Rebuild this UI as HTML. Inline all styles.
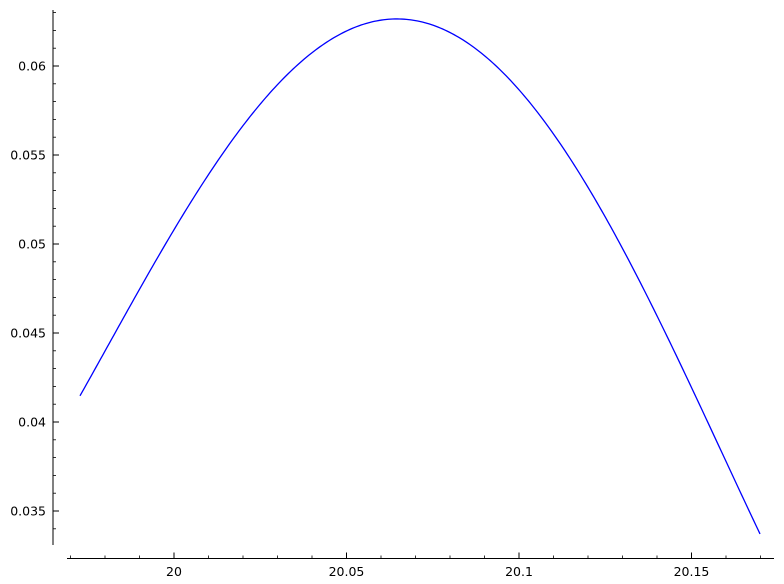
<!DOCTYPE html>
<html><head><meta charset="utf-8"><style>
html,body{margin:0;padding:0;background:#fff;}
svg{display:block;font-family:"DejaVu Sans","Liberation Sans",sans-serif;}
</style></head><body>
<svg id="chart" width="784" height="584" viewBox="0 0 784 584" xmlns="http://www.w3.org/2000/svg"></svg>
<script>
const xValues=[19.97275,19.98435,19.99884,20.01333,20.02783,20.03652,20.04609,20.05594,20.06406,20.07507,20.08493,20.09449,20.10319,20.11275,20.12261,20.13217,20.14174,20.15159,20.16116,20.16986];
const yValues=[0.04135,0.04573,0.05039,0.05472,0.05848,0.06028,0.06163,0.06236,0.06258,0.06219,0.06135,0.05994,0.05787,0.05539,0.05242,0.04904,0.04511,0.04118,0.03742,0.03371];
const xTicks=[20,20.05,20.1,20.15];
const xTickLabels=["20","20.05","20.1","20.15"];
const yTicks=[0.035,0.04,0.045,0.05,0.055,0.06];
const yTickLabels=["0.035","0.04","0.045","0.05","0.055","0.06"];

const NS="http://www.w3.org/2000/svg";
const svg=document.getElementById('chart');
function X(v){return 174+(v-20)*3450;}
function Y(v){return 66-(v-0.06)*17800;}
function mk(t,a){const e=document.createElementNS(NS,t);for(const k in a)e.setAttribute(k,a[k]);svg.appendChild(e);return e;}

const xa=mk('line',{x1:67,y1:558.5,x2:774,y2:558.5,stroke:'#000','stroke-width':1});


const ya=mk('line',{x1:53,y1:10,x2:53,y2:545,stroke:'#000','stroke-width':1});



for(let v=19.97;v<=20.1725;v+=0.01){const px=X(v);if(px<67||px>774)continue;
 const t=mk('line',{x1:px,y1:558.5,x2:px,y2:555.5,stroke:'#000','stroke-width':0.8});
 
 }
for(let v=0.033;v<=0.0631;v+=0.001){const py=Y(v);if(py<10||py>545)continue;
 const t=mk('line',{x1:53,y1:py,x2:56,y2:py,stroke:'#000','stroke-width':0.8});
 
 }

xTicks.forEach((v,i)=>{const px=X(v);
 const t=mk('line',{x1:px,y1:558.5,x2:px,y2:552.5,stroke:'#000','stroke-width':1});
 
 
 const l=mk('text',{x:px,y:576,'text-anchor':'middle','font-size':12.5,fill:'#000'});
 l.textContent=xTickLabels[i];
 
 });
yTicks.forEach((v,i)=>{const py=Y(v);
 const t=mk('line',{x1:53,y1:py,x2:59,y2:py,stroke:'#000','stroke-width':1});
 
 
 const l=mk('text',{x:46,y:py+4.5,'text-anchor':'end','font-size':12.5,fill:'#000'});
 l.textContent=yTickLabels[i];
 
 });

// least-squares polynomial smoothing of the sampled data (degree 4)
const DEG=4, xc=20.07, xs=0.1;
const n=DEG+1, A=[], b=[];
for(let i=0;i<n;i++){A.push(new Array(n).fill(0));b.push(0);}
xValues.forEach((xv,k)=>{const u=(xv-xc)/xs;const pw=[];for(let i=0;i<2*n;i++)pw.push(Math.pow(u,i));
 for(let i=0;i<n;i++){b[i]+=yValues[k]*pw[i];for(let j=0;j<n;j++)A[i][j]+=pw[i+j];}});
for(let i=0;i<n;i++){let p=i;for(let r=i+1;r<n;r++)if(Math.abs(A[r][i])>Math.abs(A[p][i]))p=r;
 [A[i],A[p]]=[A[p],A[i]];[b[i],b[p]]=[b[p],b[i]];
 for(let r=i+1;r<n;r++){const f=A[r][i]/A[i][i];for(let c=i;c<n;c++)A[r][c]-=f*A[i][c];b[r]-=f*b[i];}}
const coef=new Array(n).fill(0);
for(let i=n-1;i>=0;i--){let s=b[i];for(let c=i+1;c<n;c++)s-=A[i][c]*coef[c];coef[i]=s/A[i][i];}
function f(xv){const u=(xv-xc)/xs;let s=0;for(let i=n-1;i>=0;i--)s=s*u+coef[i];return s;}
const x0=xValues[0], x1=xValues[xValues.length-1];
let d='';
for(let k=0;k<=300;k++){const xv=x0+(x1-x0)*k/300;d+=(k?' L':'M')+X(xv).toFixed(2)+','+Y(f(xv)).toFixed(2);}
const line=mk('path',{d:d,fill:'none',stroke:'#0000ff','stroke-width':1.3});


</script>
</body></html>
